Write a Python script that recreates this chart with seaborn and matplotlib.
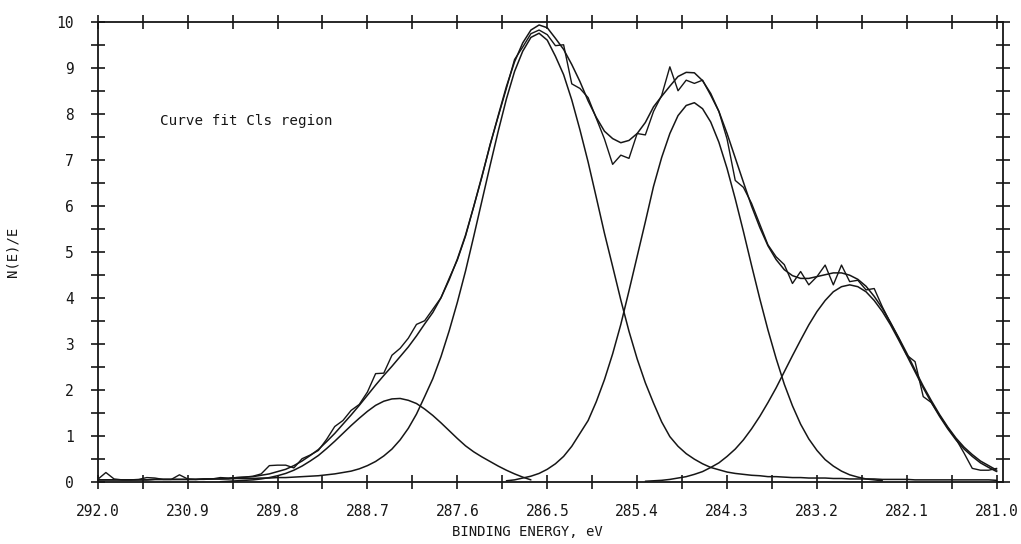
# XPS C1s 区域曲线拟合图
import matplotlib.pyplot as plt
import numpy as np
import seaborn as sns
from matplotlib.ticker import AutoMinorLocator

nan = np.nan

# 结合能通道 292.0 -> 281.0 eV，步长 0.1
energy_ev = np.round(np.linspace(292.0, 281.0, 111), 1)

# 实测谱 N(E)/E
measured = [
    0.05, 0.20, 0.06, 0.04, 0.04, 0.05, 0.09, 0.08, 0.05, 0.05,
    0.15, 0.06, 0.05, 0.05, 0.06, 0.09, 0.08, 0.09, 0.10, 0.12,
    0.17, 0.35, 0.36, 0.36, 0.30, 0.50, 0.58, 0.68, 0.92, 1.20,
    1.33, 1.55, 1.68, 1.95, 2.35, 2.36, 2.75, 2.90, 3.12, 3.42,
    3.50, 3.75, 4.00, 4.42, 4.82, 5.34, 5.98, 6.62, 7.33, 7.94,
    8.55, 9.18, 9.45, 9.74, 9.82, 9.72, 9.48, 9.50, 8.65, 8.55,
    8.35, 7.90, 7.45, 6.90, 7.10, 7.03, 7.57, 7.54, 8.05, 8.40,
    9.02, 8.50, 8.73, 8.66, 8.73, 8.40, 8.05, 7.45, 6.55, 6.40,
    6.05, 5.60, 5.15, 4.89, 4.72, 4.31, 4.57, 4.28, 4.46, 4.71,
    4.28, 4.71, 4.35, 4.38, 4.17, 4.20, 3.80, 3.45, 3.12, 2.75,
    2.61, 1.85, 1.72, 1.44, 1.17, 0.93, 0.62, 0.29, 0.25, 0.25,
    0.29,
]

# 拟合包络
envelope = [
    0.04, 0.04, 0.04, 0.04, 0.04, 0.04, 0.04, 0.05, 0.05, 0.05,
    0.05, 0.05, 0.05, 0.06, 0.06, 0.06, 0.07, 0.09, 0.10, 0.11,
    0.14, 0.17, 0.22, 0.27, 0.35, 0.45, 0.57, 0.70, 0.87, 1.05,
    1.25, 1.45, 1.66, 1.88, 2.10, 2.31, 2.51, 2.72, 2.93, 3.17,
    3.43, 3.68, 4.00, 4.39, 4.84, 5.36, 5.98, 6.64, 7.31, 7.96,
    8.59, 9.13, 9.54, 9.82, 9.93, 9.87, 9.64, 9.40, 9.07, 8.70,
    8.28, 7.92, 7.62, 7.46, 7.37, 7.42, 7.57, 7.81, 8.15, 8.38,
    8.60, 8.81, 8.90, 8.89, 8.72, 8.44, 8.05, 7.57, 7.04, 6.51,
    5.99, 5.53, 5.13, 4.83, 4.61, 4.48, 4.42, 4.42, 4.46, 4.50,
    4.54, 4.54, 4.49, 4.40, 4.25, 4.03, 3.77, 3.46, 3.13, 2.79,
    2.43, 2.08, 1.76, 1.46, 1.19, 0.95, 0.75, 0.59, 0.45, 0.35,
    0.25,
]

# 分峰 1 (~288.3 eV)
peak_288 = [
    nan, nan, nan, nan, nan, nan, nan, nan, nan, nan,
    nan, nan, nan, nan, nan, 0.00, 0.01, 0.02, 0.03, 0.04,
    0.06, 0.09, 0.13, 0.18, 0.25, 0.34, 0.45, 0.57, 0.72, 0.88,
    1.05, 1.22, 1.38, 1.53, 1.66, 1.75, 1.80, 1.81, 1.77, 1.70,
    1.58, 1.44, 1.28, 1.11, 0.94, 0.78, 0.65, 0.54, 0.44, 0.34,
    0.25, 0.17, 0.10, 0.04, nan, nan, nan, nan, nan, nan,
    nan, nan, nan, nan, nan, nan, nan, nan, nan, nan,
    nan, nan, nan, nan, nan, nan, nan, nan, nan, nan,
    nan, nan, nan, nan, nan, nan, nan, nan, nan, nan,
    nan, nan, nan, nan, nan, nan, nan, nan, nan, nan,
    nan, nan, nan, nan, nan, nan, nan, nan, nan, nan,
    nan,
]

# 分峰 2 (~286.6 eV)
peak_286 = [
    0.04, 0.04, 0.04, 0.04, 0.04, 0.04, 0.04, 0.05, 0.05, 0.05,
    0.05, 0.05, 0.05, 0.06, 0.06, 0.06, 0.06, 0.07, 0.07, 0.07,
    0.08, 0.08, 0.09, 0.09, 0.10, 0.11, 0.12, 0.13, 0.15, 0.17,
    0.20, 0.23, 0.28, 0.35, 0.44, 0.56, 0.71, 0.91, 1.16, 1.47,
    1.85, 2.24, 2.72, 3.28, 3.90, 4.58, 5.33, 6.10, 6.87, 7.62,
    8.32, 8.92, 9.36, 9.66, 9.75, 9.60, 9.25, 8.85, 8.30, 7.65,
    6.95, 6.18, 5.40, 4.68, 3.95, 3.27, 2.67, 2.15, 1.71, 1.30,
    0.98, 0.77, 0.61, 0.49, 0.39, 0.31, 0.26, 0.21, 0.18, 0.16,
    0.14, 0.13, 0.11, 0.11, 0.10, 0.09, 0.09, 0.08, 0.08, 0.08,
    0.07, 0.07, 0.06, 0.06, 0.06, 0.06, 0.05, 0.05, 0.05, 0.05,
    0.04, 0.04, 0.04, 0.04, 0.04, 0.04, 0.04, 0.04, 0.04, 0.04,
    0.03,
]

# 分峰 3 (~284.7 eV)
peak_284 = [
    nan, nan, nan, nan, nan, nan, nan, nan, nan, nan,
    nan, nan, nan, nan, nan, nan, nan, nan, nan, nan,
    nan, nan, nan, nan, nan, nan, nan, nan, nan, nan,
    nan, nan, nan, nan, nan, nan, nan, nan, nan, nan,
    nan, nan, nan, nan, nan, nan, nan, nan, nan, nan,
    0.02, 0.04, 0.08, 0.12, 0.18, 0.27, 0.39, 0.55, 0.77, 1.05,
    1.33, 1.74, 2.22, 2.78, 3.42, 4.15, 4.90, 5.65, 6.42, 7.05,
    7.57, 7.96, 8.18, 8.24, 8.11, 7.82, 7.38, 6.81, 6.15, 5.44,
    4.70, 3.98, 3.30, 2.68, 2.12, 1.65, 1.25, 0.93, 0.68, 0.48,
    0.34, 0.23, 0.15, 0.10, 0.06, 0.04, 0.02, nan, nan, nan,
    nan, nan, nan, nan, nan, nan, nan, nan, nan, nan,
    nan,
]

# 分峰 4 (~282.8 eV)
peak_282 = [
    nan, nan, nan, nan, nan, nan, nan, nan, nan, nan,
    nan, nan, nan, nan, nan, nan, nan, nan, nan, nan,
    nan, nan, nan, nan, nan, nan, nan, nan, nan, nan,
    nan, nan, nan, nan, nan, nan, nan, nan, nan, nan,
    nan, nan, nan, nan, nan, nan, nan, nan, nan, nan,
    nan, nan, nan, nan, nan, nan, nan, nan, nan, nan,
    nan, nan, nan, nan, nan, nan, nan, 0.01, 0.02, 0.03,
    0.05, 0.08, 0.11, 0.16, 0.22, 0.31, 0.41, 0.55, 0.71, 0.91,
    1.15, 1.42, 1.72, 2.04, 2.39, 2.74, 3.08, 3.41, 3.70, 3.94,
    4.13, 4.24, 4.28, 4.24, 4.13, 3.94, 3.70, 3.41, 3.08, 2.74,
    2.39, 2.04, 1.72, 1.42, 1.15, 0.91, 0.71, 0.55, 0.41, 0.31,
    0.22,
]

# 坐标轴刻度（原图第二个标签印成了 230.9）
xtick_values = [292.0, 290.9, 289.8, 288.7, 287.6, 286.5, 285.4, 284.3, 283.2, 282.1, 281.0]
xtick_labels = ['292.0', '230.9', '289.8', '288.7', '287.6', '286.5',
                '285.4', '284.3', '283.2', '282.1', '281.0']
ytick_values = [0, 1, 2, 3, 4, 5, 6, 7, 8, 9, 10]


if __name__ == '__main__':
    sns.set_theme(style="white")
    plt.rcParams['font.family'] = ['DejaVu Sans Mono', 'DejaVu Sans']

    fig = plt.figure(figsize=(10.21, 5.44), dpi=100)
    ax = fig.add_axes([0.0957, 0.1145, 0.8870, 0.8455])

    ink = '#161616'
    for series, lw in [(measured, 1.0), (envelope, 1.1), (peak_288, 1.1),
                       (peak_286, 1.1), (peak_284, 1.1), (peak_282, 1.1)]:
        sns.lineplot(x=energy_ev, y=series, color=ink, linewidth=lw,
                     estimator=None, ax=ax)

    ax.set_xlim(292.0, 280.92)
    ax.set_ylim(0, 10)

    ax.set_xticks(xtick_values)
    ax.set_xticklabels(xtick_labels)
    ax.set_yticks(ytick_values)
    ax.xaxis.set_minor_locator(AutoMinorLocator(2))
    ax.yaxis.set_minor_locator(AutoMinorLocator(2))
    # 四边都画穿过轴线的刻度
    ax.tick_params(which='both', direction='inout', bottom=True, left=True,
                   top=True, right=True, length=10, width=1.2, color=ink,
                   labelsize=10.5, labelcolor=ink)
    ax.tick_params(axis='x', which='both', pad=11)
    ax.tick_params(axis='y', which='both', pad=12)

    for sp in ax.spines.values():
        sp.set_color(ink)
        sp.set_linewidth(1.3)

    ax.set_xlabel('BINDING ENERGY, eV', fontsize=10, color=ink)
    ax.xaxis.set_label_coords(0.474, -0.094)
    ax.set_ylabel('N(E)/E', fontsize=10, color=ink)
    ax.yaxis.set_label_coords(-0.086, 0.5)

    ax.text(291.24, 7.85, 'Curve fit Cls region', fontsize=10.3,
            color=ink, ha='left', va='center')

    fig.savefig('out.png', dpi=100)
